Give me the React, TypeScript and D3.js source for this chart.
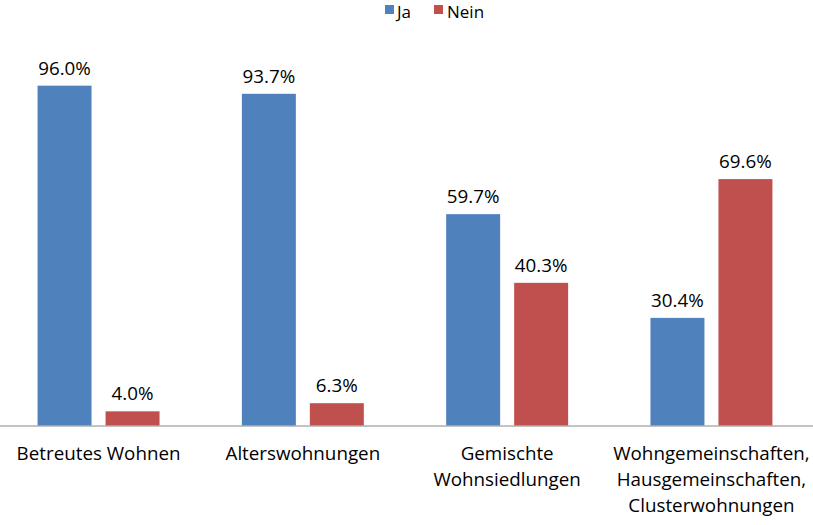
import React from "react";
import * as d3 from "d3";

const categories: string[][] = [
  ["Betreutes Wohnen"],
  ["Alterswohnungen"],
  ["Gemischte", "Wohnsiedlungen"],
  ["Wohngemeinschaften,", "Hausgemeinschaften,", "Clusterwohnungen"],
];
const seriesNames = ["Ja", "Nein"];
const jaValues = [96.0, 93.7, 59.7, 30.4];
const neinValues = [4.0, 6.3, 40.3, 69.6];
const colors = ["#4F81BD", "#C0504D"];

const W = 813;
const H = 525;
const FONT = "'Open Sans', Lato, sans-serif";

export default function App() {
  const catKeys = categories.map((c) => c.join(" "));
  const x0 = d3
    .scaleBand<string>()
    .domain(catKeys)
    .range([-3.6, 813.6])
    .paddingInner(0.403)
    .paddingOuter(0.2015);
  const x1 = d3
    .scaleBand<string>()
    .domain(seriesNames)
    .range([0, x0.bandwidth()])
    .paddingInner(0.206);
  const y = d3.scaleLinear().domain([0, 100]).range([425.5, 71.5]);
  const values = [jaValues, neinValues];

  return (
    <svg
      width={W}
      height={H}
      style={{ position: "absolute", left: 0, top: 0, background: "#fff" }}
      fontFamily={FONT}
    >
      {/* legend */}
      <g>
        <rect x={385} y={5} width={9} height={9} fill={colors[0]} />
        <text x={397} y={17.5} fontSize={17} fill="#000">
          {seriesNames[0]}
        </text>
        <rect x={434} y={5} width={9} height={9} fill={colors[1]} />
        <text x={447} y={17.5} fontSize={17} fill="#000">
          {seriesNames[1]}
        </text>
      </g>
      {/* bars */}
      {catKeys.map((k, i) => (
        <g key={k} transform={`translate(${x0(k)},0)`}>
          {seriesNames.map((s, j) => {
            const v = values[j][i];
            const bx = x1(s)!;
            const bw = x1.bandwidth();
            return (
              <g key={s}>
                <rect
                  x={bx}
                  y={y(v)}
                  width={bw}
                  height={y(0) - y(v)}
                  fill={colors[j]}
                />
                <text
                  x={bx + bw / 2}
                  y={y(v) - 11}
                  textAnchor="middle"
                  fontSize={18.8}
                  fill="#000"
                >
                  {v.toFixed(1) + "%"}
                </text>
              </g>
            );
          })}
        </g>
      ))}
      {/* axis */}
      <line x1={0} x2={W} y1={y(0) + 0.5} y2={y(0) + 0.5} stroke="#868686" strokeWidth={1} />
      {/* category labels */}
      {categories.map((lines, i) => {
        const cx = x0(catKeys[i])! + x0.bandwidth() / 2;
        return (
          <text key={i} textAnchor="middle" fontSize={18.8} fill="#000">
            {lines.map((l, li) => (
              <tspan key={li} x={cx} y={460 + li * 26}>
                {l}
              </tspan>
            ))}
          </text>
        );
      })}
    </svg>
  );
}
